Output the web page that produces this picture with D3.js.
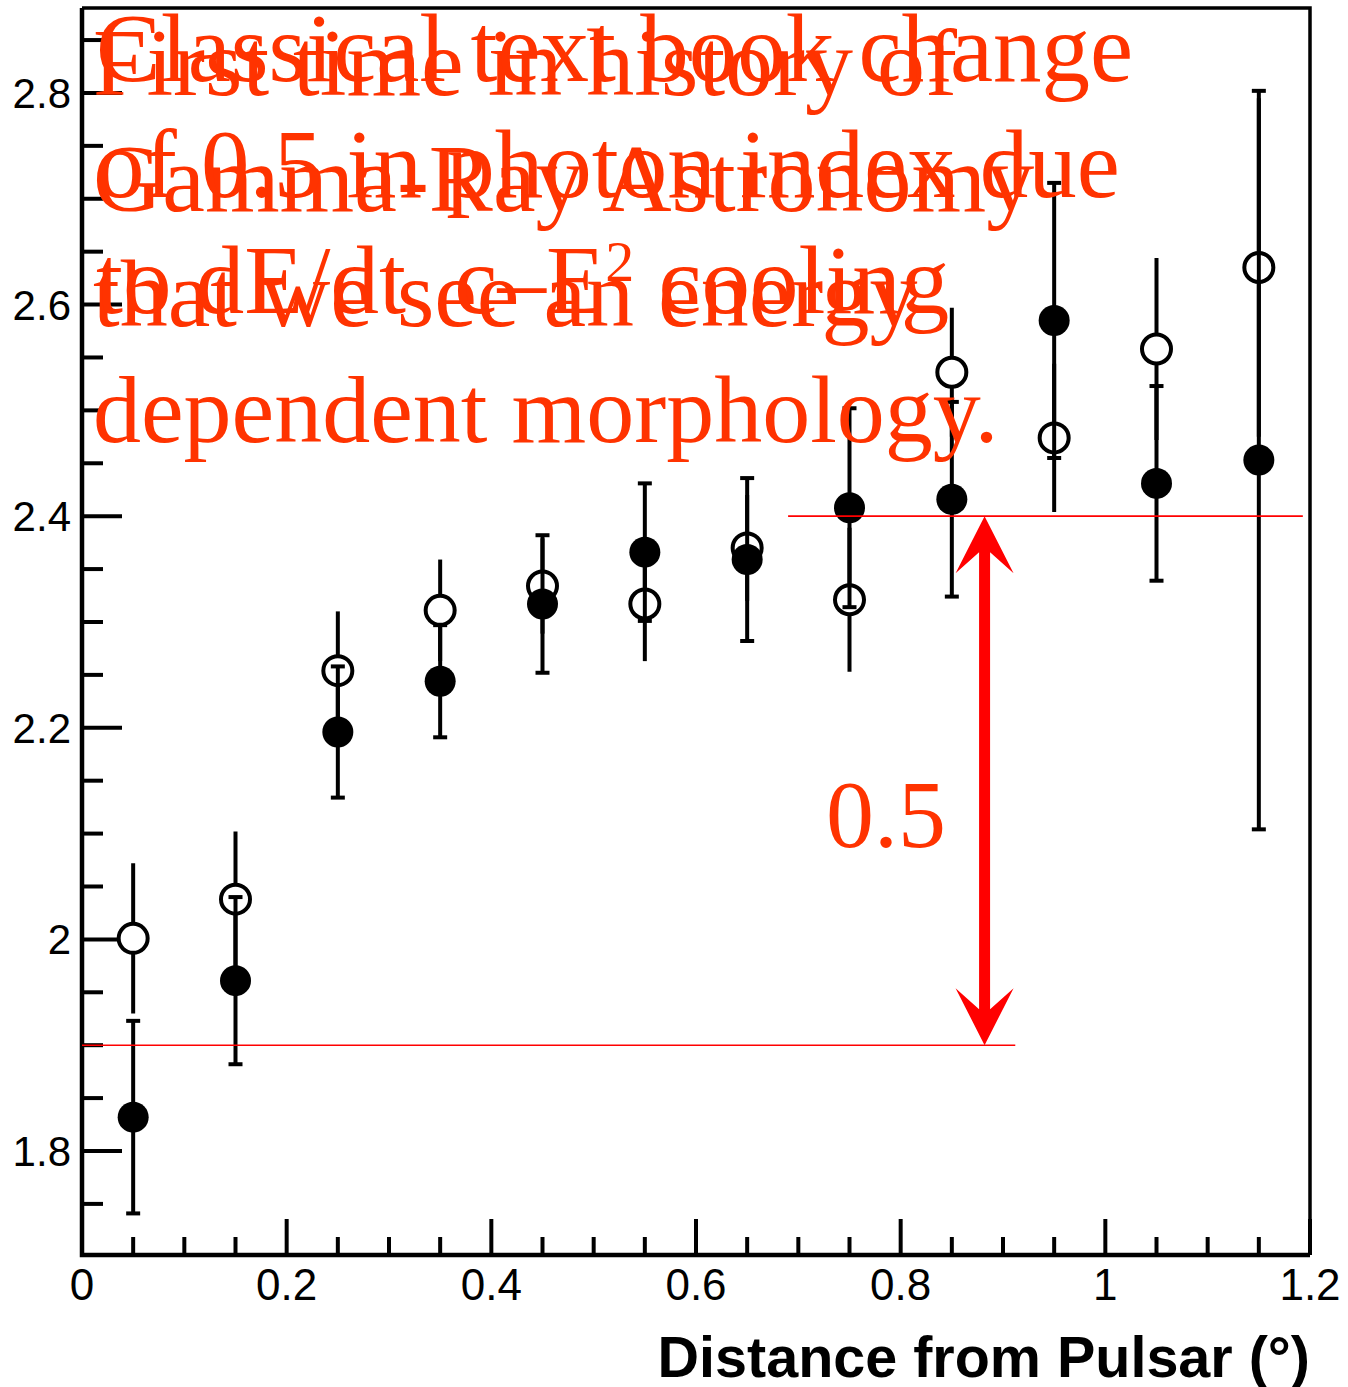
<!DOCTYPE html>
<html>
<head>
<meta charset="utf-8">
<script src="https://cdn.jsdelivr.net/npm/d3@7"></script>
<style>
  html, body { margin: 0; padding: 0; background: #fff; }
  svg { display: block; }
  text { white-space: pre; }
</style>
</head>
<body>
<script>
// ---- data ----
const distances = [0.05, 0.15, 0.25, 0.35, 0.45, 0.55, 0.65, 0.75, 0.85, 0.95, 1.05, 1.15];
const filledIndex = [1.832, 1.961, 2.196, 2.244, 2.317, 2.366, 2.359, 2.408, 2.416, 2.585, 2.431, 2.453];
const filledErr   = [0.091, 0.079, 0.062, 0.053, 0.065, 0.065, 0.077, 0.094, 0.092, 0.130, 0.092, 0.349];
const openIndex   = [2.001, 2.038, 2.254, 2.311, 2.334, 2.317, 2.370, 2.321, 2.536, 2.474, 2.558, 2.635];
const openErr     = [0.071, 0.064, 0.056, 0.048, 0.045, 0.054, 0.050, 0.068, 0.061, 0.070, 0.086, 0.160];

const xTickLabels = ["0", "0.2", "0.4", "0.6", "0.8", "1", "1.2"];
const yTickLabels = ["1.8", "2", "2.2", "2.4", "2.6", "2.8"];
const xAxisTitle = "Distance from Pulsar (°)";

const refLevels = [2.4, 1.9];          // red guide lines
const refFrom   = [0.69, 0.0];
const refTo     = [1.193, 0.912];
const arrowX = 0.882;                   // double arrow position
const arrowLabel = "0.5";
const arrowLabelX = 0.727, arrowLabelY = 2.087;

const textA = ["First time in history of", "Gamma-Ray Astronomy", "that we see an energy", "dependent morphology."];
const textB1 = "Classical text book change";
const textB2 = "of 0.5 in photon index due";

// ---- layout ----
const W = 1348, H = 1387;
const L = 82, R = 1310, T = 8, B = 1255;

const svg = d3.select("body").append("svg").attr("width", W).attr("height", H);

const x = d3.scaleLinear().domain([0, 1.2]).range([L, R]);
const y = d3.scaleLinear().domain([1.7017, 2.8803]).range([B, T]);

// ticks (inside)
const xMinor = d3.range(0, 1.2001, 0.05);
const yMinor = d3.range(1.75, 2.8801, 0.05);
const isMajor = v => Math.abs(v * 5 - Math.round(v * 5)) < 1e-6;

const gAxis = svg.append("g");
gAxis.selectAll("line.xt").data(xMinor).join("line")
  .attr("x1", d => x(d)).attr("x2", d => x(d))
  .attr("y1", B).attr("y2", d => B - (isMajor(d) ? 36 : 18))
  .attr("stroke", "#000").attr("stroke-width", 4);
gAxis.selectAll("line.yt").data(yMinor).join("line")
  .attr("y1", d => y(d)).attr("y2", d => y(d))
  .attr("x1", L).attr("x2", d => L + (isMajor(d) ? 40 : 21))
  .attr("stroke", "#000").attr("stroke-width", 4);

// frame
svg.append("path")
  .attr("d", `M${L},${T}H${R}V${B}`)
  .attr("fill", "none").attr("stroke", "#000").attr("stroke-width", 3.5);
svg.append("path")
  .attr("d", `M${L},${T}V${B}H${R}`)
  .attr("fill", "none").attr("stroke", "#000").attr("stroke-width", 4.5);

// tick labels
const xTickVals = xTickLabels.map(Number);
svg.append("g").selectAll("text").data(xTickVals).join("text")
  .attr("x", d => x(d)).attr("y", 1300)
  .attr("text-anchor", "middle")
  .attr("font-family", "'Liberation Sans', Arial, Helvetica, sans-serif")
  .attr("font-size", 44).attr("fill", "#000")
  .text((d, i) => xTickLabels[i]);

const yTickVals = yTickLabels.map(Number);
svg.append("g").selectAll("text").data(yTickVals).join("text")
  .attr("x", 71).attr("y", d => y(d) + 15)
  .attr("text-anchor", "end")
  .attr("font-family", "'Liberation Sans', Arial, Helvetica, sans-serif")
  .attr("font-size", 42).attr("fill", "#000")
  .text((d, i) => yTickLabels[i]);

svg.append("text")
  .attr("x", R).attr("y", 1377)
  .attr("text-anchor", "end")
  .attr("font-family", "'Liberation Sans', Arial, Helvetica, sans-serif")
  .attr("font-weight", "bold").attr("font-size", 57.5).attr("fill", "#000")
  .text(xAxisTitle);

// ---- data marks ----
const openData = distances.map((d, i) => ({ x: d, v: openIndex[i], e: openErr[i] }));
const filledData = distances.map((d, i) => ({ x: d, v: filledIndex[i], e: filledErr[i] }));

const gData = svg.append("g");
// open error bars (no caps)
gData.selectAll("line.oe").data(openData).join("line")
  .attr("x1", d => x(d.x)).attr("x2", d => x(d.x))
  .attr("y1", d => y(d.v - d.e)).attr("y2", d => y(d.v + d.e))
  .attr("stroke", "#000").attr("stroke-width", 4);
// open circles
gData.selectAll("circle.o").data(openData).join("circle")
  .attr("cx", d => x(d.x)).attr("cy", d => y(d.v)).attr("r", 14.5)
  .attr("fill", "#fff").attr("stroke", "#000").attr("stroke-width", 4);
// filled error bars with caps
const fe = gData.selectAll("g.fe").data(filledData).join("g");
fe.append("line")
  .attr("x1", d => x(d.x)).attr("x2", d => x(d.x))
  .attr("y1", d => y(d.v - d.e)).attr("y2", d => y(d.v + d.e))
  .attr("stroke", "#000").attr("stroke-width", 4);
fe.append("line")
  .attr("x1", d => x(d.x) - 7).attr("x2", d => x(d.x) + 7)
  .attr("y1", d => y(d.v - d.e)).attr("y2", d => y(d.v - d.e))
  .attr("stroke", "#000").attr("stroke-width", 4);
fe.append("line")
  .attr("x1", d => x(d.x) - 7).attr("x2", d => x(d.x) + 7)
  .attr("y1", d => y(d.v + d.e)).attr("y2", d => y(d.v + d.e))
  .attr("stroke", "#000").attr("stroke-width", 4);
// filled circles
gData.selectAll("circle.f").data(filledData).join("circle")
  .attr("cx", d => x(d.x)).attr("cy", d => y(d.v)).attr("r", 15.5)
  .attr("fill", "#000");

// ---- annotations ----
const red = "#ff0000", orange = "#ff3300";
refLevels.forEach((lv, i) => {
  svg.append("line")
    .attr("x1", x(refFrom[i])).attr("x2", x(refTo[i]))
    .attr("y1", y(lv)).attr("y2", y(lv))
    .attr("stroke", red).attr("stroke-width", 1.6);
});

const ax = x(arrowX), yTop = y(refLevels[0]), yBot = y(refLevels[1]);
const hw = 29, hl = 57, notch = 36, sw = 5.5;
const arrowPath = [
  [ax, yTop], [ax + hw, yTop + hl], [ax + sw, yTop + notch],
  [ax + sw, yBot - notch], [ax + hw, yBot - hl], [ax, yBot],
  [ax - hw, yBot - hl], [ax - sw, yBot - notch], [ax - sw, yTop + notch],
  [ax - hw, yTop + hl]
];
svg.append("path")
  .attr("d", d3.line()(arrowPath) + "Z")
  .attr("fill", red);

svg.append("text")
  .attr("x", x(arrowLabelX)).attr("y", y(arrowLabelY))
  .attr("font-family", "'Liberation Serif', 'Times New Roman', serif")
  .attr("font-size", 96).attr("fill", orange)
  .text(arrowLabel);

const serif = "'Liberation Serif', 'Times New Roman', serif";
// block A
const tA = svg.append("text")
  .attr("font-family", serif).attr("font-size", 96).attr("fill", orange);
textA.forEach((s, i) => {
  tA.append("tspan").attr("x", 93).attr("y", 95 + i * 115.5).text(s);
});
// block B
const tB = svg.append("text")
  .attr("font-family", serif).attr("font-size", 97).attr("fill", orange);
tB.append("tspan").attr("x", 96).attr("y", 81).text(textB1);
tB.append("tspan").attr("x", 96).attr("y", 197).text(textB2);
const l3 = svg.append("text")
  .attr("font-family", serif).attr("font-size", 97).attr("fill", orange)
  .attr("x", 96).attr("y", 313);
l3.append("tspan").text("to dE/dt  c\u2013E");
l3.append("tspan").attr("font-size", 58).attr("dy", -32).text("2");
l3.append("tspan").attr("dy", 32).text(" cooling");
</script>
</body>
</html>
